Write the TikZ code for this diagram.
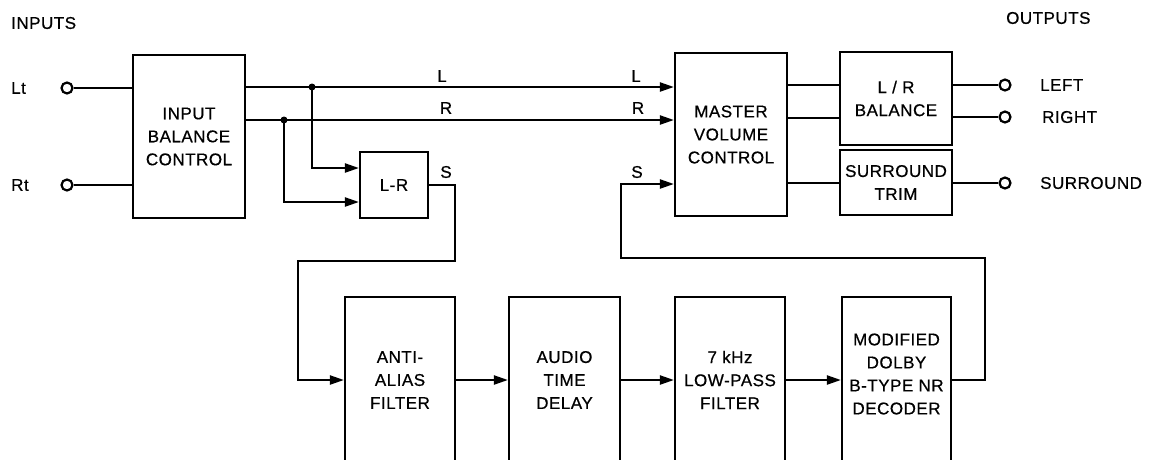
\documentclass[tikz,border=0pt]{standalone}
\usepackage{fontspec}
\setmainfont{Liberation Sans}[LetterSpace=3,FakeBold=0.6]
\usetikzlibrary{arrows.meta}
\tikzset{
  x=1pt, y=-1pt,
  every node/.style={font=\fontsize{17}{23}\selectfont},
  box/.style={draw, line width=2.2pt, inner sep=0pt, align=center},
  txt/.style={inner sep=0pt, align=center},
  lbl/.style={inner sep=0pt, anchor=west},
  port/.style={draw, circle, line width=2.2pt, fill=white, minimum size=11pt, inner sep=0pt},
  wire/.style={line width=2.2pt},
  arr/.style={line width=2.2pt, -{Triangle[length=14pt,width=9pt]}},
  dot/.style={circle, fill=black, inner sep=0pt, minimum size=7pt}
}
\begin{document}
\begin{tikzpicture}
\useasboundingbox (0,0) rectangle (1157,459);
% top labels
\node[lbl] (inputs) at (11,23) {INPUTS};
\node[lbl] (outputs) at (1006,18) {OUTPUTS};
\node[lbl] (ltl) at (11,88) {Lt};
\node[lbl] (rtl) at (11,185) {Rt};
% boxes
\node[box, minimum width=112pt, minimum height=163pt] (ibc) at (189,136.5) {INPUT\\BALANCE\\CONTROL};
\node[box, minimum width=68pt, minimum height=66pt] (lr) at (394,185) {L-R};
\node[box, minimum width=112pt, minimum height=163pt] (mvc) at (731,134.5) {MASTER\\VOLUME\\CONTROL};
\node[box, minimum width=112pt, minimum height=93pt] (bal) at (896,98.5) {L / R\\BALANCE};
\node[box, minimum width=112pt, minimum height=65pt] (trim) at (896,182.5) {SURROUND\\TRIM};
\node[box, minimum width=110pt, minimum height=166pt] (aaf) at (400,380) {ANTI-\\ALIAS\\FILTER};
\node[box, minimum width=111pt, minimum height=166pt] (atd) at (564.5,380) {AUDIO\\TIME\\DELAY};
\node[box, minimum width=110pt, minimum height=166pt] (lpf) at (730,380) {7 kHz\\LOW-PASS\\FILTER};
\node[box, minimum width=109pt, minimum height=166pt] (dec) at (896.5,380) {};
\node[txt] (dect) at (896.5,374) {MODIFIED\\DOLBY\\B-TYPE NR\\DECODER};
% input ports
\node[port] (lt) at (67,88) {};
\node[port] (rt) at (67,185) {};
\draw[wire] (lt) -- (lt -| ibc.west);
\draw[wire] (rt) -- (rt -| ibc.west);
% L and R buses
\coordinate (jl) at (312,87);
\coordinate (jr) at (284,120);
\draw[arr] (ibc.east |- jl) -- (mvc.west |- jl);
\draw[arr] (ibc.east |- jr) -- (mvc.west |- jr);
\draw[arr] (jl) |- ([yshift=17pt]lr.west);
\draw[arr] (jr) |- ([yshift=-17pt]lr.west);
\node[dot] (dl) at (jl) {};
\node[dot] (dr) at (jr) {};
\node[txt] (l1) at (442,76) {L};
\node[txt] (l2) at (636,76) {L};
\node[txt] (r1) at (446,108) {R};
\node[txt] (r2) at (638,108) {R};
\node[txt] (s1) at (446,172) {S};
\node[txt] (s2) at (637,172) {S};
% S path down to anti-alias
\coordinate (sa) at (455,261);
\coordinate (sb) at (298,261);
\draw[arr] (lr.east) -| (sa) -- (sb) |- (aaf.west);
% chain
\draw[arr] (aaf.east) -- (atd.west);
\draw[arr] (atd.east) -- (lpf.west);
\draw[arr] (lpf.east) -- (dec.west);
% return path
\coordinate (c1) at (985,258);
\coordinate (c2) at (621,184);
\draw[arr] (dec.east) -| (c1) -| (c2) -- (mvc.west |- c2);
% master outputs
\coordinate (o1) at (0,85);
\coordinate (o2) at (0,118);
\coordinate (o3) at (0,183);
\draw[wire] (mvc.east |- o1) -- (bal.west |- o1);
\draw[wire] (mvc.east |- o2) -- (bal.west |- o2);
\draw[wire] (mvc.east |- o3) -- (trim.west |- o3);
% output ports
\node[port] (pl) at (1005,85) {};
\node[port] (pr) at (1005,117) {};
\node[port] (ps) at (1005,183) {};
\draw[wire] (bal.east |- pl) -- (pl);
\draw[wire] (bal.east |- pr) -- (pr);
\draw[wire] (trim.east |- ps) -- (ps);
\node[lbl] (left) at (1040,85) {LEFT};
\node[lbl] (right) at (1042,117) {RIGHT};
\node[lbl] (surr) at (1040,183) {SURROUND};
\end{tikzpicture}
\end{document}
